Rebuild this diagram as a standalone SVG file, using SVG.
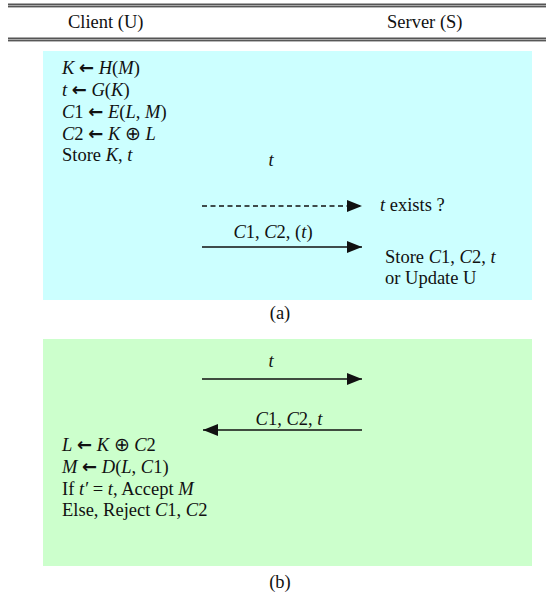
<svg xmlns="http://www.w3.org/2000/svg" width="546" height="610" viewBox="0 0 546 610">
<defs>
<style>
text{font-family:"Liberation Serif","Times New Roman",serif;font-size:18.5px;fill:#111}
.i{font-style:italic}
.ar{font-family:"DejaVu Sans",sans-serif;font-weight:bold;font-size:18px}
.mid{text-anchor:middle}
.ln{stroke:#111;stroke-width:1.4;fill:none}
.dash{stroke-dasharray:5 3.5}
</style>
<marker id="ah" viewBox="0 0 15 12" refX="15" refY="6" markerWidth="15" markerHeight="12" markerUnits="userSpaceOnUse" orient="auto">
<path d="M0,0 L15,6 L0,12 Z" fill="#111"/>
</marker>
</defs>
<g id="header">
<line x1="8" y1="4.5" x2="546" y2="4.5" stroke="#555" stroke-width="1.8"/>
<line x1="8" y1="6.8" x2="546" y2="6.8" stroke="#111" stroke-width="1"/>
<line x1="8" y1="38.5" x2="546" y2="38.5" stroke="#555" stroke-width="1.8"/>
<line x1="8" y1="40.8" x2="546" y2="40.8" stroke="#111" stroke-width="1"/>
<text x="68" y="28">Client (U)</text>
<text x="387" y="28">Server (S)</text>
</g>
<g id="panel-a">
<rect x="43" y="51" width="489" height="249" fill="#CCFFFF"/>
<text x="62" y="74"><tspan class="i">K</tspan> <tspan class="ar">←</tspan> <tspan class="i">H</tspan>(<tspan class="i">M</tspan>)</text>
<text x="62" y="96"><tspan class="i">t</tspan> <tspan class="ar">←</tspan> <tspan class="i">G</tspan>(<tspan class="i">K</tspan>)</text>
<text x="62" y="118"><tspan class="i">C</tspan>1 <tspan class="ar">←</tspan> <tspan class="i">E</tspan>(<tspan class="i">L</tspan>, <tspan class="i">M</tspan>)</text>
<text x="62" y="140"><tspan class="i">C</tspan>2 <tspan class="ar">←</tspan> <tspan class="i">K</tspan> ⊕ <tspan class="i">L</tspan></text>
<text x="62" y="161">Store <tspan class="i">K</tspan>, <tspan class="i">t</tspan></text>
<text x="271" y="166" class="mid i">t</text>
<text x="380" y="211"><tspan class="i">t</tspan> exists ?</text>
<text x="273" y="238" class="mid"><tspan class="i">C</tspan>1, <tspan class="i">C</tspan>2, (<tspan class="i">t</tspan>)</text>
<text x="385" y="263">Store <tspan class="i">C</tspan>1, <tspan class="i">C</tspan>2, <tspan class="i">t</tspan></text>
<text x="385" y="284">or Update U</text>
<text x="280" y="319" class="mid">(a)</text>
</g>
<g id="panel-b">
<rect x="43" y="339" width="489" height="227" fill="#CCFFCC"/>
<text x="271" y="367" class="mid i">t</text>
<text x="289" y="425" class="mid"><tspan class="i">C</tspan>1, <tspan class="i">C</tspan>2, <tspan class="i">t</tspan></text>
<text x="62" y="451"><tspan class="i">L</tspan> <tspan class="ar">←</tspan> <tspan class="i">K</tspan> ⊕ <tspan class="i">C</tspan>2</text>
<text x="62" y="473"><tspan class="i">M</tspan> <tspan class="ar">←</tspan> <tspan class="i">D</tspan>(<tspan class="i">L</tspan>, <tspan class="i">C</tspan>1)</text>
<text x="62" y="495">If <tspan class="i">t′</tspan> = <tspan class="i">t</tspan>, Accept <tspan class="i">M</tspan></text>
<text x="62" y="516">Else, Reject <tspan class="i">C</tspan>1, <tspan class="i">C</tspan>2</text>
<text x="280" y="588" class="mid">(b)</text>
</g>
<g id="connectors">
<line x1="202" y1="206" x2="362" y2="206" class="ln dash" marker-end="url(#ah)"/>
<line x1="202" y1="247" x2="362" y2="247" class="ln" marker-end="url(#ah)"/>
<line x1="202" y1="379" x2="362" y2="379" class="ln" marker-end="url(#ah)"/>
<line x1="362" y1="430" x2="203" y2="430" class="ln" marker-end="url(#ah)"/>
</g>
</svg>
